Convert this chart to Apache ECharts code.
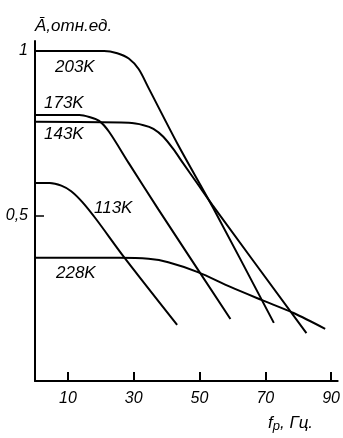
<!DOCTYPE html>
<html>
<head>
<meta charset="utf-8">
<script src="https://cdn.jsdelivr.net/npm/echarts@6/dist/echarts.min.js"></script>
<style>
  html, body { margin: 0; padding: 0; background: #fff; }
  #chart { width: 343px; height: 438px; }
</style>
</head>
<body>
<div id="chart"></div>
<script>
// частота f_p, Гц / амплитуда, отн. ед.
const curve203 = [[0, 1], [21, 1], [25, 0.993], [28.5, 0.977], [31.5, 0.945], [34.5, 0.888], [43.5, 0.715], [54, 0.527], [72.6, 0.176]]
const curve173 = [[0, 0.806], [13.5, 0.806], [16.5, 0.8], [19.5, 0.788], [22.5, 0.755], [28.5, 0.66], [37.5, 0.52], [59.4, 0.188]]
const curve143 = [[0, 0.785], [28.5, 0.782], [33, 0.775], [36, 0.764], [39, 0.74], [42, 0.703], [45, 0.66], [49.5, 0.596], [54, 0.532], [82.5, 0.145]]
const curve113 = [[0, 0.6], [4.5, 0.6], [8, 0.592], [11, 0.575], [14.4, 0.542], [18.6, 0.49], [27, 0.376], [43.2, 0.17]]
const curve228 = [[0, 0.373], [25.5, 0.373], [34.5, 0.37], [40.5, 0.36], [49.5, 0.33], [59.4, 0.285], [69, 0.245], [78.6, 0.206], [88.2, 0.158]]
const xTicks = [10, 30, 50, 70, 90]
const yTicks = [0.5, 1]
const yTickText = ['0,5', '1']

const chart = echarts.init(document.getElementById('chart'))

const font = 'Liberation Sans'
const curveSeries = (name, data) => ({
  name: name,
  type: 'line',
  data: data,
  smooth: 0.3,
  symbol: 'none',
  lineStyle: { color: '#000', width: 2 },
  silent: true
})

// подписи кривых
const label = (text, x, y) => ({
  type: 'text',
  left: x,
  top: y,
  style: { text: text, fill: '#000', font: 'italic 17px "' + font + '"' }
})

const option = {
  animation: false,
  grid: { left: 35, top: 41, width: 307, height: 340 },
  xAxis: {
    type: 'value',
    min: 0,
    max: 92,
    axisLine: { lineStyle: { color: '#000', width: 2 } },
    axisTick: { inside: true, length: 9, customValues: xTicks, lineStyle: { color: '#000', width: 2 } },
    axisLabel: {
      customValues: xTicks,
      color: '#000',
      fontFamily: font,
      fontStyle: 'italic',
      fontSize: 16,
      margin: 10
    },
    splitLine: { show: false }
  },
  yAxis: {
    type: 'value',
    min: 0,
    max: 1.03,
    axisLine: { show: true, lineStyle: { color: '#000', width: 2 } },
    axisTick: { show: true, inside: true, length: 9, customValues: yTicks, lineStyle: { color: '#000', width: 1.5 } },
    axisLabel: {
      customValues: yTicks,
      formatter: v => yTickText[yTicks.indexOf(v)],
      color: '#000',
      fontFamily: font,
      fontStyle: 'italic',
      fontSize: 16,
      margin: 7
    },
    splitLine: { show: false }
  },
  graphic: [
    label('203K', 55, 59),
    label('173K', 44, 95),
    label('143K', 44, 126),
    label('113K', 94, 200),
    label('228K', 56, 265),
    {
      type: 'text',
      left: 35,
      top: 18,
      style: { text: 'Ā,отн.ед.', fill: '#000', font: 'italic 17px "' + font + '"' }
    },
    {
      type: 'text',
      left: 268,
      top: 415,
      style: {
        text: '{a|f}{s|p}{a|, Гц.}',
        rich: {
          a: { fill: '#000', fontFamily: font, fontStyle: 'italic', fontSize: 17 },
          s: { fill: '#000', fontFamily: font, fontStyle: 'italic', fontSize: 13, verticalAlign: 'bottom', padding: [6, 0, 0, 0] }
        }
      }
    }
  ],
  series: [
    curveSeries('203K', curve203),
    curveSeries('173K', curve173),
    curveSeries('143K', curve143),
    curveSeries('113K', curve113),
    curveSeries('228K', curve228)
  ]
}

chart.setOption(option)
</script>
</body>
</html>
